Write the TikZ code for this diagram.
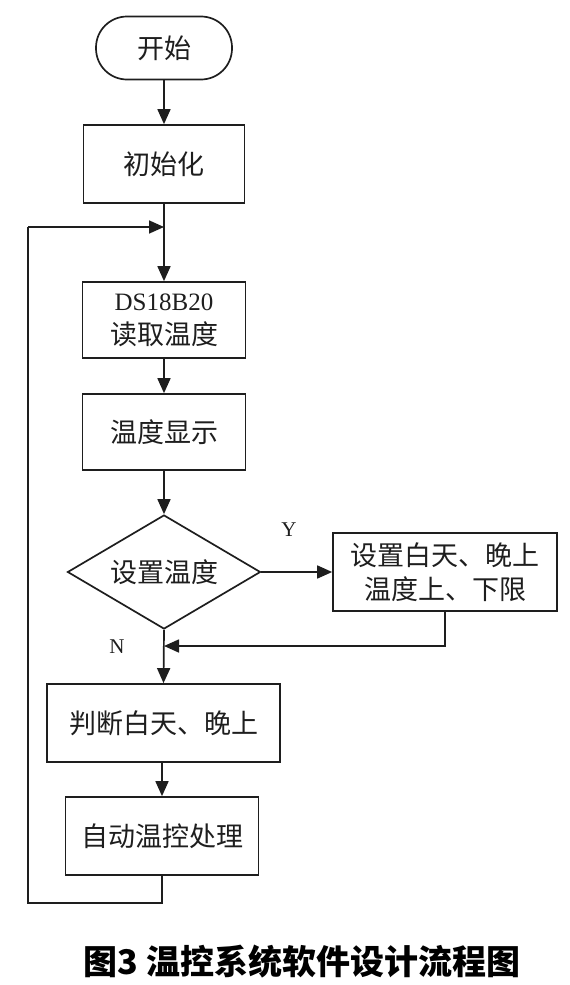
\documentclass[tikz,border=0pt]{standalone}
\usepackage{fontspec}
\setmainfont{Liberation Serif}
\newfontfamily\cjk{Noto Sans CJK SC}
\usetikzlibrary{shapes.geometric,arrows.meta}
\definecolor{ink}{RGB}{30,30,30}
\tikzset{
  stepbox/.style={draw=ink, line width=1.7pt, inner sep=0pt, align=center,
     font=\fontsize{27}{34}\selectfont\cjk, text=ink},
  arr/.style={draw=ink, line width=1.7pt, -{Triangle[length=15pt,width=13pt]}},
  ln/.style={draw=ink, line width=1.7pt},
  lbl/.style={font=\fontsize{21}{21}\selectfont, text=ink, inner sep=0pt}
}
\begin{document}
\begin{tikzpicture}[x=1pt,y=-1pt]
\useasboundingbox (0,0) rectangle (570,985);
\node[stepbox, minimum width=136pt, minimum height=63pt, rounded corners=31pt] (start) at (164,48) {开始};
\node[stepbox, minimum width=161pt, minimum height=78pt] (init) at (164,164) {初始化};
\node[stepbox, minimum width=163pt, minimum height=76pt] (ds) at (164,320) {{\rmfamily\fontsize{25}{34}\selectfont DS18B20}\\读取温度};
\node[stepbox, minimum width=163pt, minimum height=76pt] (disp) at (164,432) {温度显示};
\node[stepbox, shape=diamond, aspect=1.69, minimum width=193pt, minimum height=114pt] (dia) at (164,572) {设置温度};
\node[stepbox, minimum width=224pt, minimum height=78pt] (set) at (445,572) {设置白天、晚上\\温度上、下限};
\node[stepbox, minimum width=233pt, minimum height=78pt] (judge) at (163.5,723) {判断白天、晚上};
\node[stepbox, minimum width=193pt, minimum height=78pt] (auto) at (162,836) {自动温控处理};
\node[lbl] (ylab) at (289,530) {Y};
\node[lbl] (nlab) at (117,647) {N};
\node[font=\fontsize{34}{34}\selectfont\cjk\bfseries, text=black, inner sep=0pt] (cap) at (302,962) {图3\hspace{8pt}温控系统软件设计流程图};
\coordinate (j1) at (164,227);
\coordinate (lt) at (28,227);
\coordinate (lb) at (28,903);
\coordinate (j2) at (164,646);
\draw[arr] (start.south) -- (init.north);
\draw[arr] (init.south) -- (ds.north);
\draw[arr] (ds.south) -- (disp.north);
\draw[arr] (disp.south) -- (dia.north);
\draw[arr] (dia.east) -- (set.west);
\draw[arr] (set.south) |- (j2);
\draw[arr] (dia.south) -- (judge.north);
\draw[arr] (auto |- judge.south) -- (auto.north);
\draw[ln] (auto.south) |- (lb) -- (lt);
\draw[arr] (lt) -- (j1);
\end{tikzpicture}
\end{document}
